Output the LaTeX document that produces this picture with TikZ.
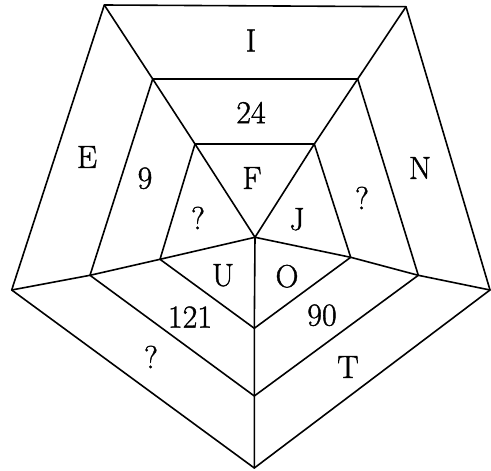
\documentclass[tikz,border=0pt]{standalone}
\usepackage{fontspec}
\newfontfamily\lblfont{Latin Modern Roman}[FakeBold=1.2]
\begin{document}
\begin{tikzpicture}[x=1pt,y=-1pt,
  edge/.style={line width=1.6pt,line join=round,line cap=round},
  lbl/.style={inner sep=0pt,text depth=0pt,font=\lblfont\fontsize{32}{36}\selectfont}]
\useasboundingbox (0,0) rectangle (491,471);
% outer pentagon
\coordinate (o1) at (104.3,5);
\coordinate (o2) at (406,6.7);
\coordinate (o3) at (490,290);
\coordinate (o4) at (254.3,468);
\coordinate (o5) at (11.7,290);
% middle pentagon
\coordinate (m1) at (152.7,79);
\coordinate (m2) at (357.7,79);
\coordinate (m3) at (418.3,275.3);
\coordinate (m4) at (254.3,396);
\coordinate (m5) at (90,275.3);
% inner pentagon
\coordinate (i1) at (195,144);
\coordinate (i2) at (314.3,144);
\coordinate (i3) at (350.7,257.3);
\coordinate (i4) at (254.3,328.3);
\coordinate (i5) at (160,259.3);
\coordinate (c) at (255,237.3);
\draw[edge] (o1) -- (o2) -- (o3) -- (o4) -- (o5) -- cycle;
\draw[edge] (m1) -- (m2) -- (m3) -- (m4) -- (m5) -- cycle;
\draw[edge] (i1) -- (i2) -- (i3) -- (i4) -- (i5) -- cycle;
\foreach \k in {1,...,5}{\draw[edge] (o\k) -- (m\k) -- (i\k) -- (c);}
% labels
\node[lbl] (tI) at (251,40.5) {I};
\node[lbl] (t24) at (251,112.5) {24};
\node[lbl] (tE) at (87,157) {E};
\node[lbl] (t9) at (145,178) {9};
\node[lbl] (tF) at (252,178) {F};
\node[lbl] (q1) at (198,218) {?};
\node[lbl] (tJ) at (297,219) {J};
\node[lbl] (q2) at (362,198) {?};
\node[lbl] (tN) at (420,168) {N};
\node[lbl] (tU) at (223,275) {U};
\node[lbl] (tO) at (287,276) {O};
\node[lbl] (t121) at (190,317) {121};
\node[lbl] (t90) at (322,315) {90};
\node[lbl] (q3) at (151,357) {?};
\node[lbl] (tT) at (348,367) {T};
\end{tikzpicture}
\end{document}
